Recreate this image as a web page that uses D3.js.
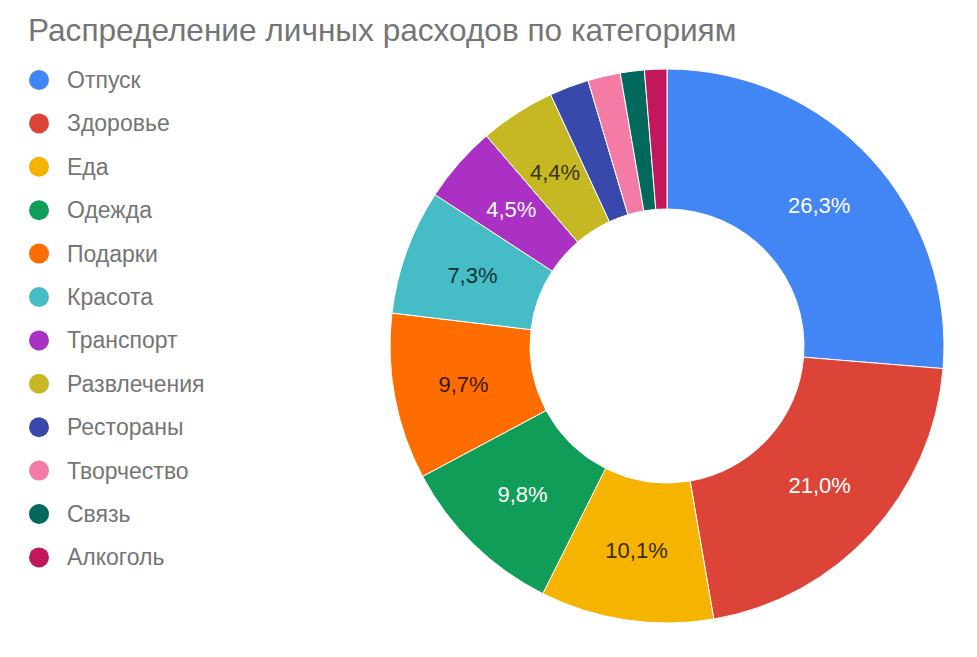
<!DOCTYPE html>
<html><head><meta charset="utf-8">
<script src="https://cdn.jsdelivr.net/npm/d3@7"></script>
<style>body{margin:0;background:#fff;} svg{display:block;}</style>
</head><body>
<svg id="chart" width="977" height="657"></svg>
<script>
const title = "Распределение личных расходов по категориям";
const categories = ["Отпуск","Здоровье","Еда","Одежда","Подарки","Красота","Транспорт","Развлечения","Рестораны","Творчество","Связь","Алкоголь"];
const values = [26.3,21.0,10.1,9.8,9.7,7.3,4.5,4.4,2.3,1.9,1.4,1.3];
const colors = ["#4285F4","#DB4437","#F4B400","#0F9D58","#FF6D01","#46BDC6","#AB30C4","#C5B822","#3949AB","#F57BA7","#00695C","#C2185B"];
const labelColors = ["#ffffff","#ffffff","#3a2a00","#ffffff","#3a1a00","#0c3336","#ffffff","#3a3600"];

const svg = d3.select("#chart");
const font = "'Liberation Sans', Arial, sans-serif";

svg.append("text").attr("x",28).attr("y",41)
  .attr("font-family",font).attr("font-size",31.6).attr("fill","#757575")
  .text(title);

const legend = svg.append("g");
categories.forEach((c,i)=>{
  const y = 80 + i*43.4;
  legend.append("circle").attr("cx",39).attr("cy",y).attr("r",10).attr("fill",colors[i]);
  legend.append("text").attr("x",67).attr("y",y).attr("dy","0.35em")
    .attr("font-family",font).attr("font-size",23).attr("fill","#757575").text(c);
});

const cx=667, cy=346, R=277, r0=137;
const pie = d3.pie().sort(null).value(d=>d)(values);
const arc = d3.arc().innerRadius(r0).outerRadius(R);
const g = svg.append("g").attr("transform",`translate(${cx},${cy})`);
g.selectAll("path").data(pie).join("path")
  .attr("d",arc).attr("fill",(d,i)=>colors[i])
  .attr("stroke","#fff").attr("stroke-width",1);
const fmt = v => v.toFixed(1).replace(".",",")+"%";
g.selectAll("text.lbl").data(pie.filter((d,i)=>values[i]>=4)).join("text")
  .attr("class","lbl")
  .attr("transform",d=>`translate(${arc.centroid(d)})`)
  .attr("text-anchor","middle").attr("dy","0.35em")
  .attr("font-family",font).attr("font-size",22)
  .attr("fill",(d,i)=>labelColors[i])
  .text(d=>fmt(d.value));
</script>
</body></html>
